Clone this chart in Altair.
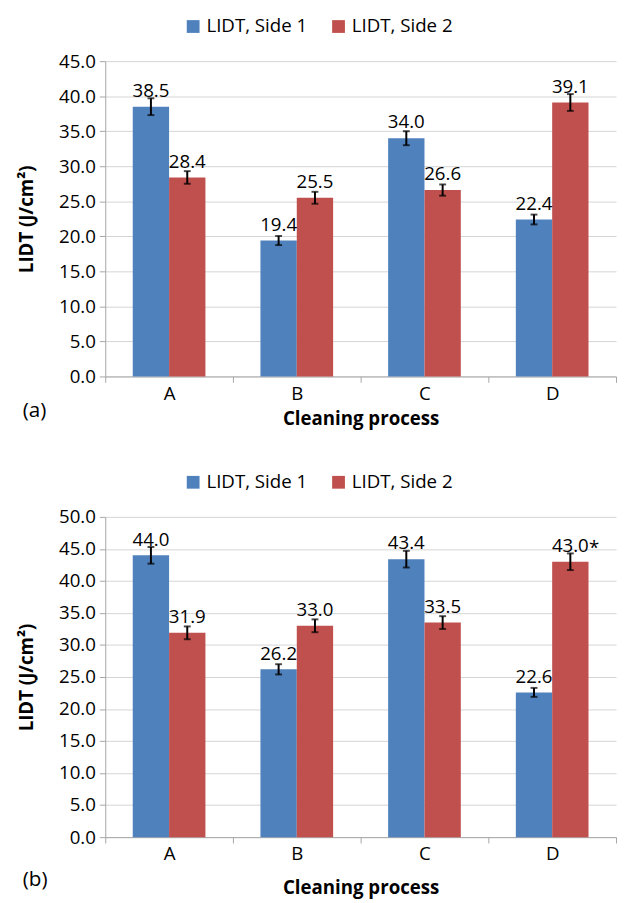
import altair as alt
import pandas as pd

categories = ["A", "B", "C", "D"]
series_names = ["LIDT, Side 1", "LIDT, Side 2"]
series_colors = ["#4F81BD", "#C0504D"]

# panel (a)
a_side1 = [38.5, 19.4, 34.0, 22.4]
a_side2 = [28.4, 25.5, 26.6, 39.1]
a_err1 = [1.2, 0.65, 1.0, 0.7]
a_err2 = [0.9, 0.85, 0.8, 1.2]
a_ticks = [0, 5, 10, 15, 20, 25, 30, 35, 40, 45]

# panel (b)
b_side1 = [44.0, 26.2, 43.4, 22.6]
b_side2 = [31.9, 33.0, 33.5, 43.0]
b_err1 = [1.3, 0.8, 1.3, 0.7]
b_err2 = [1.0, 1.0, 1.0, 1.3]
b_notes2 = ["", "", "", "*"]
b_ticks = [0, 5, 10, 15, 20, 25, 30, 35, 40, 45, 50]

FONT = "Open Sans"
AXIS_GRAY = "#A6A6A6"
GRID_GRAY = "#D4D4D4"
FS = 19


def frame(s1, s2, e1, e2, notes2=None):
    rows = []
    for i, c in enumerate(categories):
        for name, vals, errs in ((series_names[0], s1, e1), (series_names[1], s2, e2)):
            note = ""
            if notes2 is not None and name == series_names[1]:
                note = notes2[i]
            rows.append({
                "cat": c, "series": name, "value": vals[i],
                "lo": vals[i] - errs[i], "hi": vals[i] + errs[i],
                "label": f"{vals[i]:.1f}", "note": note,
            })
    return pd.DataFrame(rows)


def panel(df, ticks, letter, height, xtitle_pad, letter_dy):
    ymax = ticks[-1]
    x_axis = alt.Axis(title="Cleaning process", labelAngle=0, tickBand="extent",
                      domainColor=AXIS_GRAY, tickColor=AXIS_GRAY, tickSize=6,
                      labelFont=FONT, labelFontSize=FS, labelColor="black",
                      labelPadding=2, titleFont=FONT, titleFontSize=FS,
                      titleFontWeight="bold", titleColor="black",
                      titlePadding=xtitle_pad, grid=False)
    x_scale = alt.Scale(type="band", paddingInner=0, paddingOuter=0)
    xo_scale = alt.Scale(type="band", paddingInner=0, paddingOuter=0.757)
    y_axis = alt.Axis(values=ticks, format=".1f", title="LIDT (J/cm²)",
                      labelOverlap=False, gridColor=GRID_GRAY,
                      domainColor=AXIS_GRAY, tickColor=AXIS_GRAY,
                      tickSize=6, labelFont=FONT, labelFontSize=FS,
                      labelColor="black", labelPadding=4, titleFont=FONT,
                      titleFontSize=FS, titleFontWeight="bold",
                      titleColor="black", titleX=-70)
    y_scale = alt.Scale(domain=[0, ymax], nice=False, zero=True)

    def X():
        return alt.X("cat:N", sort=categories, scale=x_scale, axis=x_axis)

    def XO():
        return alt.XOffset("series:N", sort=series_names, scale=xo_scale)

    def Y(field):
        return alt.Y(field, type="quantitative", scale=y_scale, axis=y_axis)

    color = alt.Color("series:N", sort=series_names,
                      scale=alt.Scale(domain=series_names, range=series_colors),
                      legend=alt.Legend(orient="none", legendX=80, legendY=-45,
                                        direction="horizontal", title=None,
                                        symbolType="square", symbolSize=169,
                                        symbolStrokeWidth=0, labelFont=FONT,
                                        labelFontSize=FS, labelColor="black",
                                        labelOffset=4, columnPadding=22, padding=0))
    base = alt.Chart(df)
    bars = base.mark_bar().encode(x=X(), xOffset=XO(), y=Y("value"), color=color)
    rule = base.mark_rule(color="black", strokeWidth=2).encode(
        x=X(), xOffset=XO(), y=Y("lo"), y2="hi:Q")
    cap_lo = base.mark_tick(color="black", thickness=2, size=7).encode(
        x=X(), xOffset=XO(), y=Y("lo"))
    cap_hi = base.mark_tick(color="black", thickness=2, size=7).encode(
        x=X(), xOffset=XO(), y=Y("hi"))
    labels = base.mark_text(dy=-10, baseline="alphabetic", font=FONT, fontSize=FS,
                            color="black").encode(x=X(), xOffset=XO(), y=Y("value"),
                                                  text="label:N")
    layers = [bars, rule, cap_lo, cap_hi, labels]
    if (df["note"] != "").any():
        notes = base.transform_filter(alt.datum.note != "").mark_text(
            align="left", dx=19, dy=-8, baseline="alphabetic", font=FONT,
            fontSize=FS, color="black").encode(x=X(), xOffset=XO(), y=Y("value"),
                                               text="note:N")
        layers.append(notes)
    return alt.layer(*layers).properties(
        width=520, height=height,
        title=alt.TitleParams(letter, orient="bottom", anchor="start", frame="group",
                              dx=-84, dy=letter_dy, font=FONT, fontSize=21,
                              fontWeight="normal", color="black"))


pa = panel(frame(a_side1, a_side2, a_err1, a_err2), a_ticks, "(a)", 321, 7, -33)
pb = panel(frame(b_side1, b_side2, b_err1, b_err2, b_notes2), b_ticks, "(b)", 326,
           15, -32)

chart = alt.vconcat(pa, pb, spacing=143, bounds="flush").resolve_scale(
    y="independent").resolve_legend(color="independent").properties(
    padding={"left": 10, "top": 1, "right": 0, "bottom": 0}
).configure_view(stroke=None)

chart.save("out.html", embed_options={"renderer": "svg", "actions": False})
